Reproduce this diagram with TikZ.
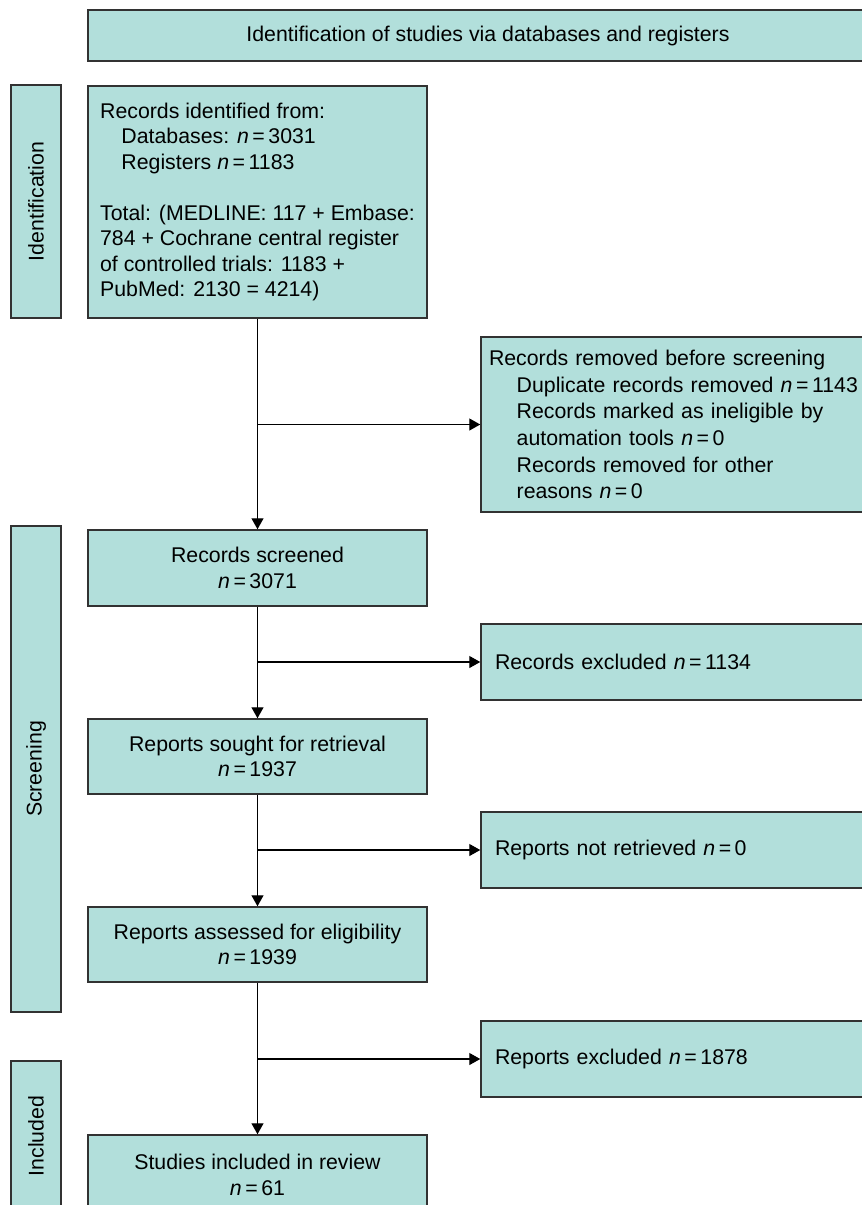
\documentclass[tikz,border=0pt]{standalone}
\usepackage{fontspec}
\setmainfont{Liberation Sans}
\usetikzlibrary{arrows.meta, positioning}

\definecolor{boxfill}{RGB}{178,223,219}
\definecolor{boxline}{RGB}{50,50,50}
\newcommand{\nval}[1]{\textit{n}\,=\,#1}

\begin{document}
\begin{tikzpicture}[
    x=1pt, y=-1pt,
    every node/.style = {font=\fontsize{21.3}{25.5}\selectfont},
    box/.style = {
        rectangle,
        draw=boxline,
        line width=1.5pt,
        fill=boxfill,
        inner sep=0pt,
        align=center
    },
    mainbox/.style = {box, minimum width=339pt},
    sidebox/.style = {box, rotate=90, minimum height=50pt},
    rbox/.style = {
        box,
        minimum width=407pt,
        text width=379pt,
        inner xsep=14pt,
        align=left
    },
    arr/.style = {
        -{Triangle[length=11pt,width=12pt]},
        line width=1.3pt,
        color=black
    }
]

\useasboundingbox (0,0) rectangle (862,1205);
\clip (0,0) rectangle (862,1205);

%% Title
\node[box, minimum width=800pt, minimum height=51pt]
    (title) at (488,35.5) {Identification of studies via databases and registers};

%% Phase labels on the left
\node[sidebox, minimum width=233pt] (ident)  at (36,201.5) {Identification};
\node[sidebox, minimum width=486pt] (screen) at (36,769)   {Screening};
\node[sidebox, minimum width=150pt] (incl)   at (36,1136)  {Included};

%% Main column
\node[mainbox, minimum height=232pt, align=left] (recid) at (257.5,202)
    {Records identified from:\\
     \hspace*{1em}Databases: \nval{3031}\\
     \hspace*{1em}Registers \nval{1183}\\[25.5pt]
     Total: (MEDLINE: 117 + Embase:\\
     784 + Cochrane central register\\
     of controlled trials: 1183 +\\
     PubMed: 2130 = 4214)};
\node[mainbox, minimum height=76pt] (screened) at (257.5,568)
    {Records screened\\ \nval{3071}};
\node[mainbox, minimum height=75pt] (sought) at (257.5,756.5)
    {Reports sought for retrieval\\ \nval{1937}};
\node[mainbox, minimum height=75pt] (assessed) at (257.5,944.5)
    {Reports assessed for eligibility\\ \nval{1939}};
\node[mainbox, minimum height=80pt] (studies) at (257.5,1175)
    {Studies included in review\\ \nval{61}};

%% Exclusion column
\node[rbox, minimum height=175pt, inner xsep=8pt, text width=391pt,
      font=\fontsize{21.3}{26.6}\selectfont] (removed) at (684.5,424.5)
    {Records removed before screening\\
     \hspace*{1.3em}Duplicate records removed \nval{1143}\\
     \hspace*{1.3em}Records marked as ineligible by\\
     \hspace*{1.3em}automation tools \nval{0}\\
     \hspace*{1.3em}Records removed for other\\
     \hspace*{1.3em}reasons \nval{0}};
\node[rbox, minimum height=76pt] (excluded) at (684.5,662)
    {Records excluded \nval{1134}};
\node[rbox, minimum height=76pt] (notret) at (684.5,850)
    {Reports not retrieved \nval{0}};
\node[rbox, minimum height=76pt] (repexcl) at (684.5,1059)
    {Reports excluded \nval{1878}};

%% Arrows down the main column
\draw[arr] (recid)    -- (screened);
\draw[arr] (screened) -- (sought);
\draw[arr] (sought)   -- (assessed);
\draw[arr] (assessed) -- (studies);

%% Arrows to the exclusion column
\draw[arr] (recid.south |- removed.west)     -- (removed.west);
\draw[arr] (screened.south |- excluded.west) -- (excluded.west);
\draw[arr] (sought.south |- notret.west)     -- (notret.west);
\draw[arr] (assessed.south |- repexcl.west)  -- (repexcl.west);

\end{tikzpicture}
\end{document}
